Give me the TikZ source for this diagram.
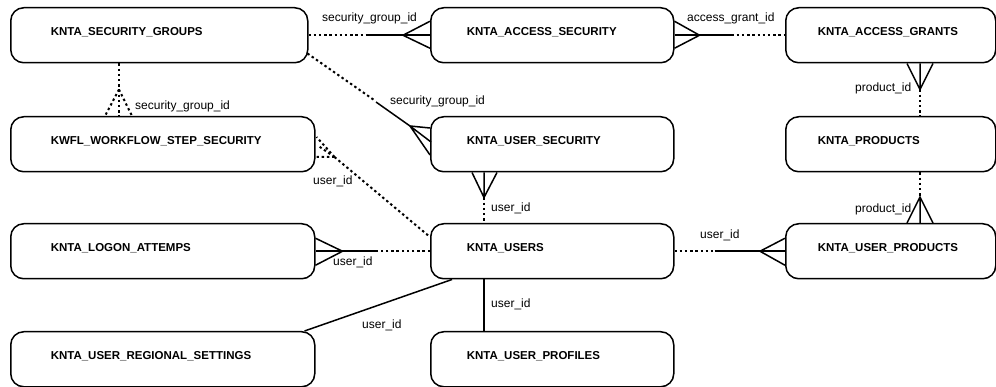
\documentclass[tikz,border=0pt]{standalone}
\usepackage{fontspec}
\setmainfont{Liberation Sans}
\usetikzlibrary{calc}
\begin{document}
\begin{tikzpicture}[x=1pt,y=-1pt,
  ent/.style={draw, line width=1.5pt, rounded corners=13pt, anchor=north west,
    minimum height=55pt, inner xsep=0pt, inner ysep=0pt, align=left,
    text height=4.5pt, text depth=4.5pt, font=\fontsize{11.5}{13}\selectfont\bfseries},
  conn/.style={line width=1.5pt},
  dotline/.style={line width=2pt, dash pattern=on 2.4pt off 2.8pt},
  lbl/.style={anchor=base west, inner sep=0pt, font=\fontsize{12}{14}\selectfont}]
\useasboundingbox (0,0) rectangle (996,387);

% entities
\node[ent, text width=297pt] (sg) at (10,7) {\hspace*{40pt}KNTA\_SECURITY\_GROUPS};
\node[ent, text width=243pt] (as) at (430,7) {\hspace*{36pt}KNTA\_ACCESS\_SECURITY};
\node[ent, text width=210pt] (ag) at (785,7) {\hspace*{32pt}KNTA\_ACCESS\_GRANTS};
\node[ent, text width=304pt] (kw) at (10,116) {\hspace*{40pt}KWFL\_WORKFLOW\_STEP\_SECURITY};
\node[ent, text width=243pt] (usec) at (430,116) {\hspace*{36pt}KNTA\_USER\_SECURITY};
\node[ent, text width=210pt] (pr) at (785,116) {\hspace*{32pt}KNTA\_PRODUCTS};
\node[ent, text width=304pt] (lg) at (10,223) {\hspace*{40pt}KNTA\_LOGON\_ATTEMPS};
\node[ent, text width=243pt] (usr) at (430,223) {\hspace*{36pt}KNTA\_USERS};
\node[ent, text width=210pt] (up) at (785,223) {\hspace*{32pt}KNTA\_USER\_PRODUCTS};
\node[ent, text width=304pt] (rg) at (10,331) {\hspace*{40pt}KNTA\_USER\_REGIONAL\_SETTINGS};
\node[ent, text width=243pt] (pf) at (430,331) {\hspace*{36pt}KNTA\_USER\_PROFILES};

% SG -> AS
\draw[dotline] (sg.east) -- ($(as.west)+(-63,0)$);
\draw[conn] ($(as.west)+(-63,0)$) -- (as.west);
\draw[conn] ($(as.west)+(-27,0)$) -- ($(as.west)+(0,-14)$)
            ($(as.west)+(-27,0)$) -- ($(as.west)+(0,13)$);

% AG -> AS
\draw[conn] (as.east) -- ($(as.east)+(57,0)$);
\draw[dotline] ($(as.east)+(57,0)$) -- (ag.west);
\draw[conn] ($(as.east)+(25,0)$) -- ($(as.east)+(0,-14)$)
            ($(as.east)+(25,0)$) -- ($(as.east)+(0,13)$);

% SG -> KWFL
\draw[dotline] ($(sg.south west)+(109,0)$) -- ($(kw.north west)+(109,0)$);
\draw[dotline] ($(sg.south west)+(109,26)$) -- ($(kw.north west)+(95,0)$)
               ($(sg.south west)+(109,26)$) -- ($(kw.north west)+(122,0)$);

% SG -> USEC
\draw[dotline] ($(sg.south east)+(-1,-10)$) -- ($(usec.north west)+(-56,-16)$);
\draw[conn] ($(usec.north west)+(-54,-14)$) -- ($(usec.north west)+(-20,10)$) -- ($(usec.north west)+(0,12)$);
\draw[conn] ($(usec.north west)+(-20,10)$) -- ($(usec.north west)+(1,26)$)
            ($(usec.north west)+(-20,10)$) -- ($(usec.north west)+(0,39)$);

% KWFL -> USR
\draw[dotline] ($(kw.north east)+(19,41)$) -- ($(usr.north west)+(0,14)$);
\draw[dotline] ($(kw.north east)+(19,41)$) -- ($(kw.north east)+(1,21)$)
               ($(kw.north east)+(19,41)$) -- ($(kw.north east)+(3,30)$)
               ($(kw.north east)+(19,41)$) -- ($(kw.north east)+(1,41)$);

% USEC -> USR
\draw[conn] ($(usec.south west)+(42,0)$) -- ($(usec.south west)+(54,25)$) -- ($(usec.south west)+(67,0)$)
            ($(usec.south west)+(54,0)$) -- ($(usec.south west)+(54,25)$);
\draw[dotline] ($(usec.south west)+(54,25)$) -- ($(usr.north west)+(54,0)$);

% AG -> PR
\draw[conn] ($(ag.south west)+(122,0)$) -- ($(ag.south west)+(135,26)$) -- ($(ag.south west)+(148,0)$)
            ($(ag.south west)+(135,0)$) -- ($(ag.south west)+(135,26)$);
\draw[dotline] ($(ag.south west)+(135,26)$) -- ($(pr.north west)+(135,0)$);

% PR -> UP
\draw[dotline] ($(pr.south west)+(135,0)$) -- ($(up.north west)+(135,-26)$);
\draw[conn] ($(up.north west)+(122,0)$) -- ($(up.north west)+(135,-26)$) -- ($(up.north west)+(148,0)$)
            ($(up.north west)+(135,0)$) -- ($(up.north west)+(135,-26)$);

% USR -> UP
\draw[dotline] (usr.east) -- ($(usr.east)+(40,0)$);
\draw[conn] ($(usr.east)+(40,0)$) -- (up.west);
\draw[conn] ($(up.west)+(-25,0)$) -- ($(up.west)+(0,-13)$)
            ($(up.west)+(-25,0)$) -- ($(up.west)+(0,14)$);

% USR -> LOGON
\draw[dotline] (usr.west) -- ($(lg.east)+(60,0)$);
\draw[conn] ($(lg.east)+(60,0)$) -- (lg.east);
\draw[conn] ($(lg.east)+(27,0)$) -- ($(lg.east)+(0,-13)$)
            ($(lg.east)+(27,0)$) -- ($(lg.east)+(0,14)$);

% USR -> REG
\draw[conn] ($(usr.south west)+(22,0)$) -- ($(rg.north east)+(-11,0)$);

% USR -> PROF
\draw[conn] ($(usr.south west)+(54,0)$) -- ($(pf.north west)+(54,0)$);

% labels
\node[lbl] (l1) at (322,22) {security\_group\_id};
\node[lbl] (l2) at (687,22) {access\_grant\_id};
\node[lbl] (l3) at (135,110) {security\_group\_id};
\node[lbl] (l4) at (390,105) {security\_group\_id};
\node[lbl] (l5) at (855,92) {product\_id};
\node[lbl] (l6) at (313,185) {user\_id};
\node[lbl] (l7) at (491,212) {user\_id};
\node[lbl] (l8) at (855,213) {product\_id};
\node[lbl] (l9) at (700,239) {user\_id};
\node[lbl] (l10) at (333,266) {user\_id};
\node[lbl] (l11) at (491,308) {user\_id};
\node[lbl] (l12) at (362,328) {user\_id};
\end{tikzpicture}
\end{document}
